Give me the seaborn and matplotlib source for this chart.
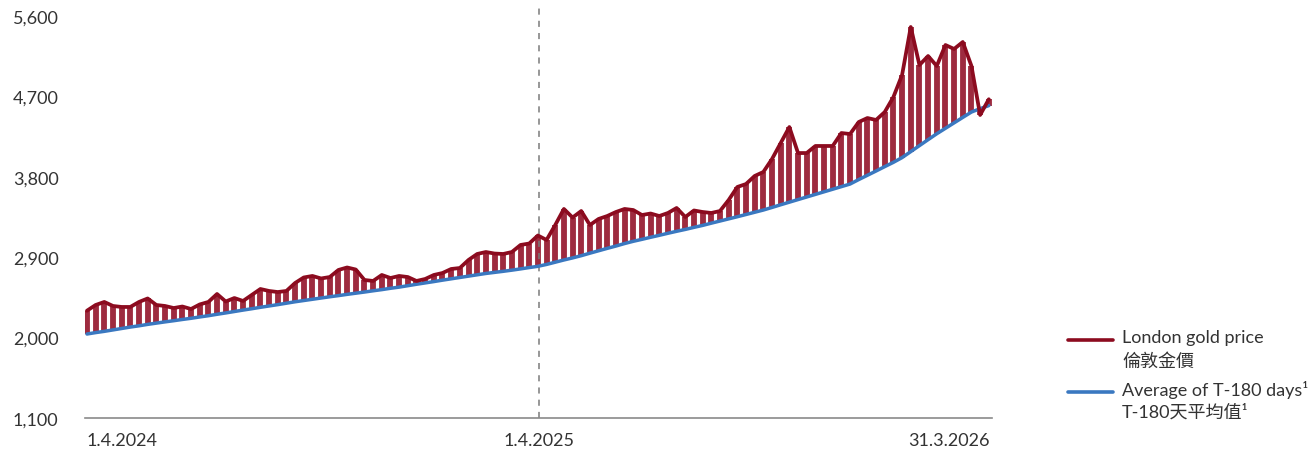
import numpy as np
import pandas as pd
import matplotlib
matplotlib.use("Agg")
import matplotlib.pyplot as plt
import matplotlib.dates as mdates
from matplotlib.lines import Line2D
import seaborn as sns

# ---------------- data (weekly readings, USD/oz) ----------------
start_date = "2024-04-01"
n_weeks = 105
gold_price = [
    2301, 2365, 2399, 2354, 2343, 2343, 2399, 2438, 2365, 2354,
    2331, 2348, 2320, 2371, 2399, 2488, 2404, 2443, 2410, 2477,
    2544, 2522, 2510, 2522, 2611, 2673, 2690, 2662, 2678, 2757,
    2785, 2762, 2645, 2634, 2701, 2667, 2690, 2678, 2634, 2656,
    2701, 2723, 2768, 2779, 2869, 2936, 2958, 2941, 2936, 2958,
    3037, 3053, 3143, 3093, 3260, 3440, 3344, 3417, 3260, 3328,
    3361, 3406, 3440, 3428, 3372, 3389, 3361, 3395, 3451, 3350,
    3423, 3406, 3395, 3417, 3540, 3686, 3719, 3809, 3854, 3999,
    4178, 4357, 4066, 4066, 4145, 4145, 4145, 4290, 4279, 4413,
    4458, 4436, 4525, 4693, 4940, 5477, 5051, 5152, 5040, 5275,
    5231, 5309, 5040, 4492, 4668,
]
avg_180 = [
    2040, 2056, 2070, 2086, 2102, 2118, 2132, 2148, 2162, 2176,
    2189, 2203, 2216, 2231, 2245, 2261, 2276, 2292, 2308, 2323,
    2339, 2354, 2369, 2385, 2401, 2415, 2429, 2443, 2457, 2470,
    2484, 2497, 2510, 2524, 2537, 2552, 2565, 2581, 2597, 2612,
    2627, 2643, 2658, 2673, 2688, 2703, 2718, 2730, 2742, 2755,
    2769, 2784, 2798, 2819, 2844, 2869, 2892, 2917, 2945, 2972,
    2999, 3025, 3053, 3078, 3100, 3123, 3145, 3168, 3190, 3211,
    3234, 3256, 3281, 3305, 3329, 3353, 3378, 3403, 3428, 3457,
    3487, 3516, 3545, 3574, 3603, 3632, 3661, 3690, 3719, 3769,
    3817, 3865, 3914, 3962, 4015, 4082, 4149, 4216, 4282, 4343,
    4404, 4465, 4525, 4563, 4597,
]
y_ticks = [1100, 2000, 2900, 3800, 4700, 5600]
x_tick_dates = ["2024-04-01", "2025-04-01", "2026-03-31"]
x_tick_labels = ["1.4.2024", "1.4.2025", "31.3.2026"]
divider_date = "2025-04-01"
legend_labels = [("London gold price", "倫敦金價"),
                 ("Average of T-180 days\u00b9", "T-180天平均值\u00b9")]

dates = pd.date_range(start_date, periods=n_weeks, freq="7D")
df = pd.DataFrame({"date": dates, "price": gold_price, "avg": avg_180})

# ---------------- style ----------------
sns.set_theme(style="white")
plt.rcParams["font.family"] = ["Lato", "Noto Sans CJK TC", "DejaVu Sans"]

RED = "#8C0B1F"
STRIPE = "#9E2B3F"
BLUE = "#3A78C0"
TXT = "#333333"
FS = 13

W, H = 1314, 456
fig = plt.figure(figsize=(W / 100, H / 100), dpi=100)
ax = fig.add_axes([85 / W, 1 - 419 / H, (992 - 85) / W, (419 - 5) / H])

# stripes between price and average
ax.vlines(df["date"], df["avg"], df["price"], color=STRIPE, linewidth=4.2, zorder=1)

sns.lineplot(data=df, x="date", y="avg", ax=ax, color=BLUE, linewidth=2.5, zorder=3)
sns.lineplot(data=df, x="date", y="price", ax=ax, color=RED, linewidth=2.7, zorder=4)

ax.axvline(pd.Timestamp(divider_date), color="#7a7a7a", linewidth=1.1,
           linestyle=(0, (4, 4)), zorder=2)

ax.set_xlim(pd.Timestamp("2024-03-30 10:00"), pd.Timestamp("2026-04-01 14:00"))
ax.set_ylim(1100, 1100 + (419 - 5) * 11.194)

ax.set_yticks(y_ticks)
ax.set_yticklabels([f"{v:,}" for v in y_ticks], fontsize=FS, color=TXT)
ax.tick_params(axis="y", length=0, pad=19)
ax.set_xticks([pd.Timestamp(d) for d in x_tick_dates])
ax.set_xticklabels(x_tick_labels, fontsize=FS, color=TXT)
ax.tick_params(axis="x", length=0, pad=10)
xt = ax.get_xticklabels()
xt[0].set_ha("left")
xt[-1].set_ha("right")

ax.set_xlabel("")
ax.set_ylabel("")
for s in ["top", "right", "left"]:
    ax.spines[s].set_visible(False)
ax.spines["bottom"].set_color("#8a8a8a")
ax.spines["bottom"].set_linewidth(1.2)
ax.grid(False)

# ---------------- legend ----------------
legend_specs = [(RED, 341, 338, 361), (BLUE, 393, 390, 412)]
for (col, ly, t1, t2), (lab1, lab2) in zip(legend_specs, legend_labels):
    fig.add_artist(Line2D([1068 / W, 1113 / W], [1 - ly / H, 1 - ly / H],
                          color=col, linewidth=2.6, transform=fig.transFigure))
    fig.text(1122 / W, 1 - t1 / H, lab1, fontsize=FS, color=TXT, va="center", ha="left")
    fig.text(1122 / W, 1 - t2 / H, lab2, fontsize=FS, color=TXT, va="center", ha="left")

fig.savefig("out.png", dpi=100)
